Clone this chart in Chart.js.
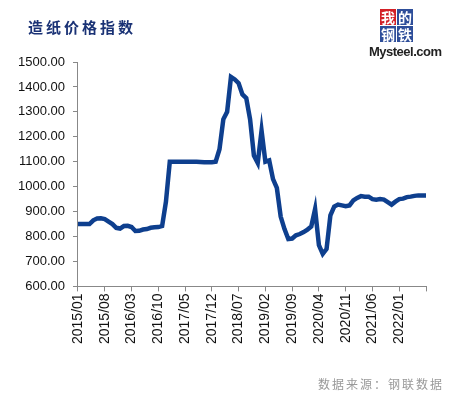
<!DOCTYPE html>
<html>
<head>
<meta charset="utf-8">
<script src="https://cdn.jsdelivr.net/npm/chart.js@4"></script>
<style>
  body { margin: 0; background: #fff; }
  #wrap { position: relative; width: 463px; height: 397px; }
  #title { position: absolute; left: 28px; top: 16px; font: bold 15px "Noto Sans CJK SC", sans-serif; color: #1A3275; letter-spacing: 3px; }
  #logo { position: absolute; left: 368px; top: 9px; width: 80px; }
  .box { position: absolute; width: 16px; height: 16px; color: #fff; font: bold 14px "Noto Sans CJK SC", sans-serif; line-height: 16px; text-align: center; }
  #brand { position: absolute; left: 1px; top: 35px; font: bold 13px "Liberation Sans", Arial, sans-serif; color: #222; letter-spacing: -0.5px; white-space: nowrap; }
  #source { position: absolute; left: 318px; top: 375px; font: 12px "Noto Sans CJK SC", sans-serif; color: #999; letter-spacing: 2px; }
  canvas { position: absolute; left: 0; top: 0; }
</style>
</head>
<body>
<div id="wrap">
  <canvas id="c" width="463" height="397"></canvas>
  <div id="title">造纸价格指数</div>
  <div id="logo">
    <div class="box" style="left:12px;top:0;background:#D32027">我</div>
    <div class="box" style="left:29px;top:0;background:#2E4E9A">的</div>
    <div class="box" style="left:12px;top:17px;background:#2E4E9A">钢</div>
    <div class="box" style="left:29px;top:17px;background:#2E4E9A">铁</div>
    <div id="brand">Mysteel.com</div>
  </div>
  <div id="source">数据来源：钢联数据</div>
</div>
<script>
const startYear = 2015;
const months = [];
for (let i = 0; i < 92; i++) {
  const y = startYear + Math.floor(i / 12);
  const m = (i % 12) + 1;
  months.push(y + '/' + (m < 10 ? '0' + m : m));
}

const paperIndex = [
  850, 850, 850, 850, 865, 872, 873, 870, 860, 850, 835, 832,
  842, 843, 838, 822, 823, 828, 830, 835, 837, 838, 842, 940,
  1100, 1100, 1100, 1100, 1100, 1100, 1100, 1100, 1099, 1098, 1098, 1098,
  1100, 1150, 1270, 1300, 1440, 1430, 1415, 1370, 1355, 1270, 1125, 1095,
  1225, 1100, 1105, 1030, 995, 880, 830, 790, 792, 805, 810, 818,
  828, 840, 910, 765, 730, 750, 885, 920, 928, 925, 922, 925,
  945, 955, 962, 960, 960, 950, 948, 950, 948, 938, 928, 940,
  950, 952, 958, 960, 963, 965, 965, 965
];

const yTicks = [600, 700, 800, 900, 1000, 1100, 1200, 1300, 1400, 1500];

new Chart(document.getElementById('c'), {
  type: 'line',
  data: {
    labels: months,
    datasets: [{
      data: paperIndex,
      borderColor: '#0E3F8E',
      borderWidth: 4.5,
      pointRadius: 0,
      fill: false,
      tension: 0
    }]
  },
  options: {
    responsive: false,
    animation: false,
    layout: { padding: { left: 10, top: 62, right: 37, bottom: 51 } },
    plugins: { legend: { display: false }, tooltip: { enabled: false } },
    scales: {
      x: {
        offset: false,
        grid: { drawOnChartArea: false, color: '#888', tickLength: 5 },
        border: { color: '#888' },
        ticks: {
          autoSkip: false,
          maxRotation: 90,
          minRotation: 90,
          color: '#111',
          font: { family: 'Liberation Sans', size: 14 },
          padding: 2,
          callback: function (v, i) {
            if (i === months.length - 1) return '';
            if (i % 7 === 0) return months[i];
            return null;
          }
        }
      },
      y: {
        min: yTicks[0],
        max: yTicks[yTicks.length - 1],
        grid: { drawOnChartArea: false, color: '#888', tickLength: 5 },
        border: { color: '#888' },
        ticks: {
          stepSize: 100,
          color: '#111',
          font: { family: 'Liberation Sans', size: 13 },
          padding: 8,
          callback: v => v.toFixed(2)
        }
      }
    }
  }
});
</script>
</body>
</html>
